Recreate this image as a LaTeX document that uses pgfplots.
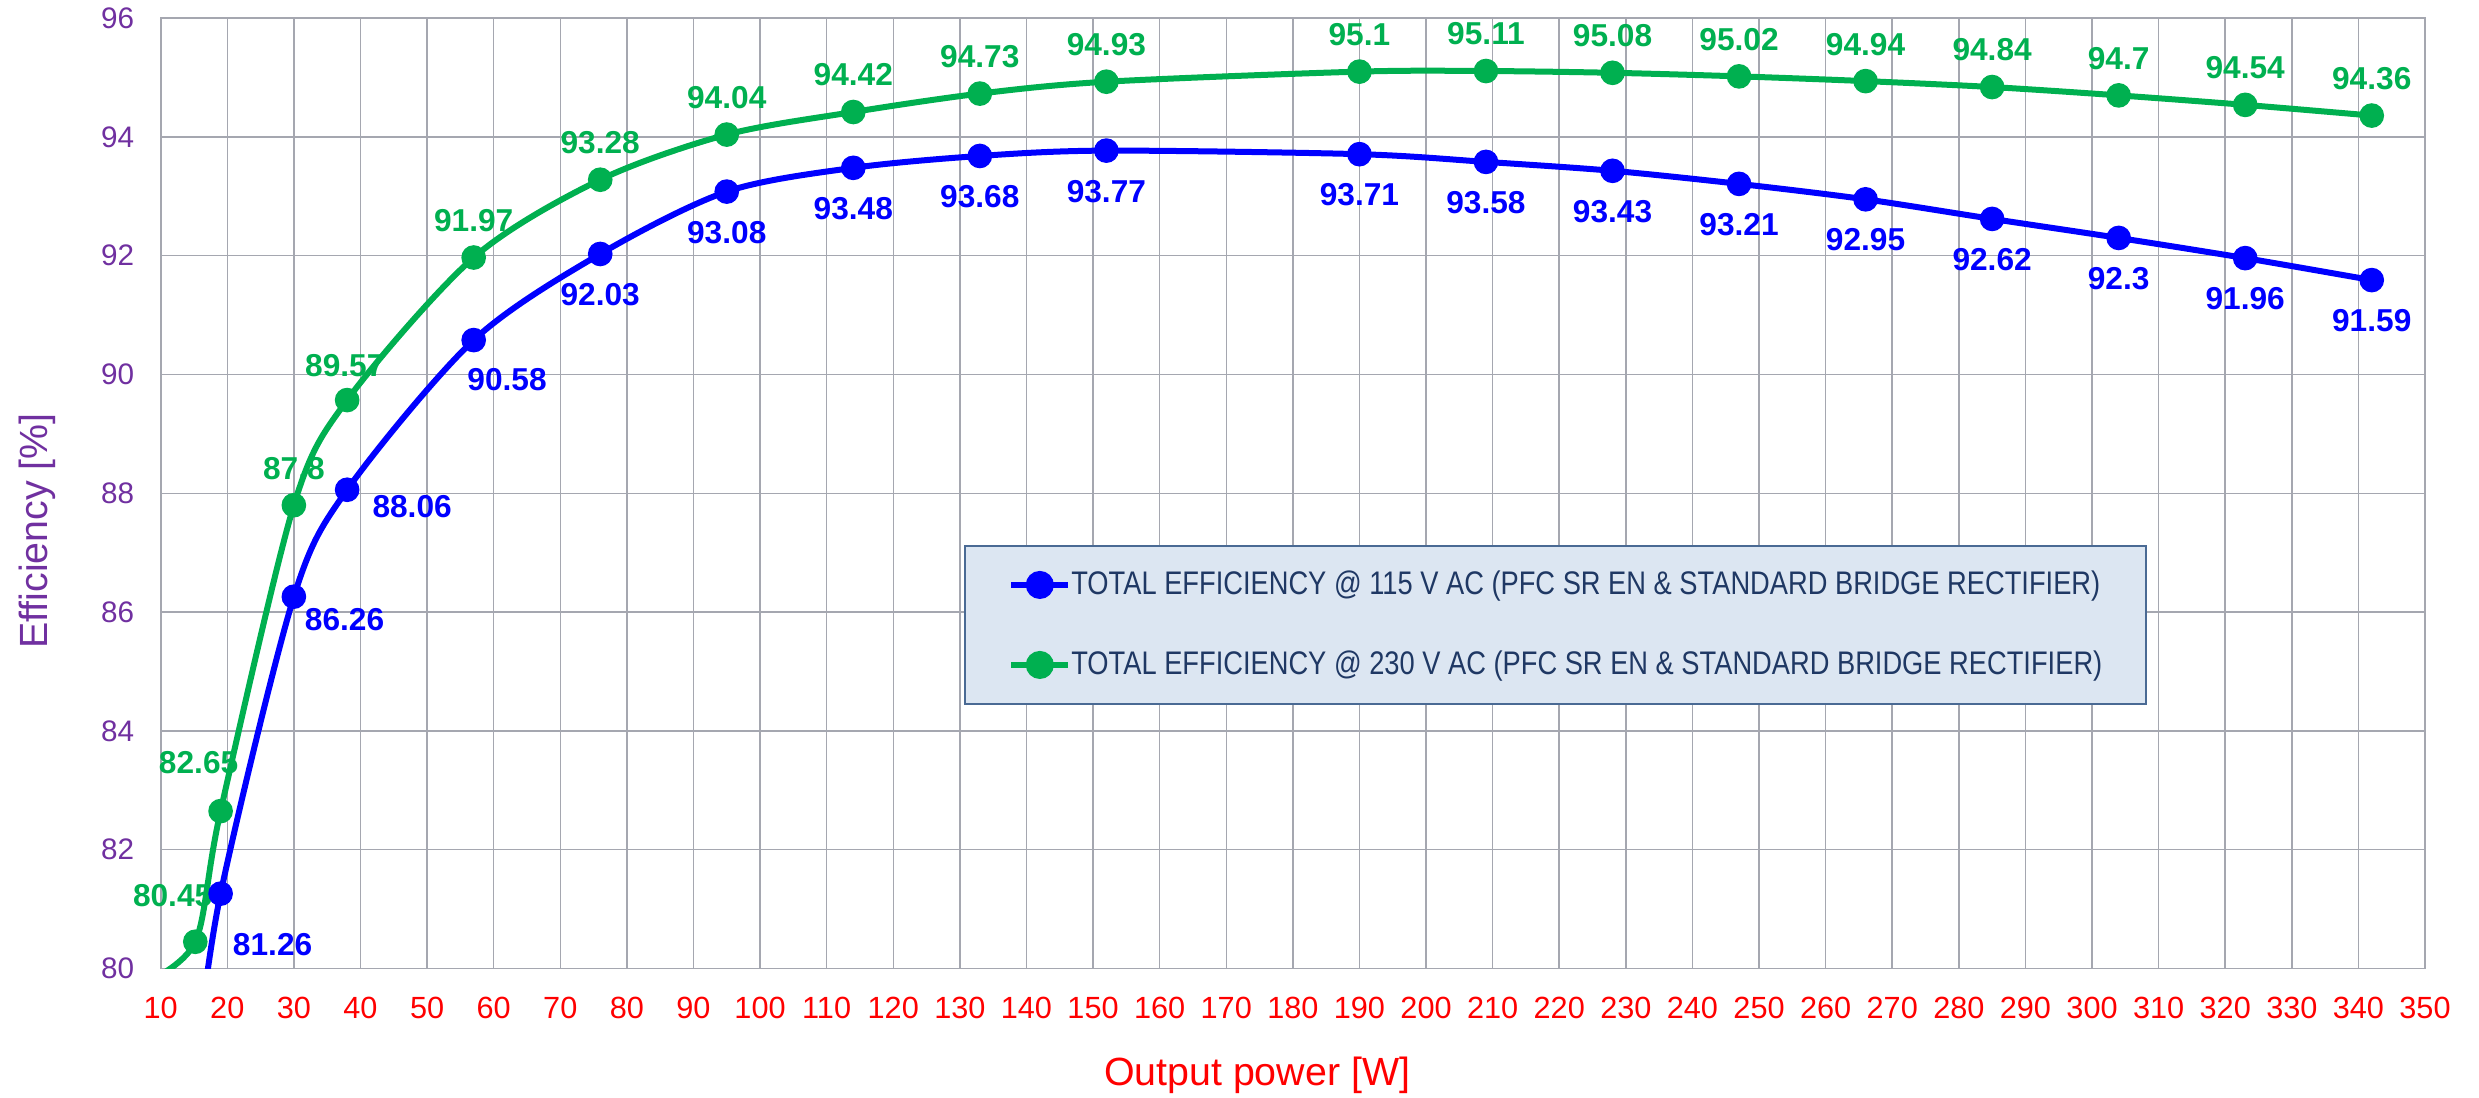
\documentclass[border=0pt]{standalone}
\usepackage{fontspec}
\setmainfont{Liberation Sans}
\newfontfamily\narrowfont{Liberation Sans}[FakeStretch=0.835]
\usepackage{pgfplots}
\usepackage{pgfplotstable}
\pgfplotsset{compat=1.18}

\definecolor{cblue}{HTML}{0000FF}
\definecolor{cgreen}{HTML}{00B050}
\definecolor{cpurple}{HTML}{7030A0}
\definecolor{cred}{HTML}{FF0000}
\definecolor{gridc}{HTML}{A5A7B0}
\definecolor{legfill}{HTML}{DCE6F2}
\definecolor{legdraw}{HTML}{4A6A94}
\definecolor{legtext}{HTML}{1F3864}

% line data (first point lies below the axis and is clipped)
\pgfplotstableread{
x y
7.6 79.75
15.2 80.45
19 82.65
30 87.8
38 89.57
57 91.97
76 93.28
95 94.04
114 94.42
133 94.73
152 94.93
190 95.1
209 95.11
228 95.08
247 95.02
266 94.94
285 94.84
304 94.7
323 94.54
342 94.36
}\greenline

\pgfplotstableread{
x y
15.2 78.3
19 81.26
30 86.26
38 88.06
57 90.58
76 92.03
95 93.08
114 93.48
133 93.68
152 93.77
190 93.71
209 93.58
228 93.43
247 93.21
266 92.95
285 92.62
304 92.3
323 91.96
342 91.59
}\blueline

% visible points with label text and label offsets (pt)
\pgfplotstableread{
x y lab dx dy
15.2 80.45 80.45 -6.8 14
19 82.65 82.65 -6.6 14.7
30 87.8 87.8 0 11.1
38 89.57 89.57 -0.7 10.2
57 91.97 91.97 0 11.1
76 93.28 93.28 0 11.1
95 94.04 94.04 0 11.1
114 94.42 94.42 0 11.1
133 94.73 94.73 0 11.1
152 94.93 94.93 0 11.1
190 95.1 95.1 0 11.1
209 95.11 95.11 0 11.1
228 95.08 95.08 0 11.1
247 95.02 95.02 0 11.1
266 94.94 94.94 0 11.1
285 94.84 94.84 0 11.1
304 94.7 94.7 0 11.1
323 94.54 94.54 0 11.1
342 94.36 94.36 0 11.1
}\greenpts

\pgfplotstableread{
x y lab dx dy
19 81.26 81.26 15.6 -15.2
30 86.26 86.26 15.2 -6.8
38 88.06 88.06 19.5 -5
57 90.58 90.58 10 -12
76 92.03 92.03 0 -12.2
95 93.08 93.08 0 -12.2
114 93.48 93.48 0 -12.2
133 93.68 93.68 0 -12.2
152 93.77 93.77 0 -12.2
190 93.71 93.71 0 -12.2
209 93.58 93.58 0 -12.2
228 93.43 93.43 0 -12.2
247 93.21 93.21 0 -12.2
266 92.95 92.95 0 -12.2
285 92.62 92.62 0 -12.2
304 92.3 92.3 0 -12.2
323 91.96 91.96 0 -12.2
342 91.59 91.59 0 -12.2
}\bluepts

\begin{document}
\begin{tikzpicture}
\useasboundingbox (0,0) rectangle (743.7pt,329.1pt);
\begin{axis}[
  at={(48.2pt,38.55pt)}, anchor=south west,
  scale only axis, width=679.3pt, height=285.1pt,
  xmin=10, xmax=350, ymin=80, ymax=96,
  xtick={10,20,...,350}, ytick={80,82,...,96},
  grid=major,
  major grid style={color=gridc, line width=0.45pt},
  axis line style={color=gridc, line width=0.5pt},
  major tick length=0pt,
  /pgf/number format/assume math mode=true,
  xticklabel style={font=\fontsize{9.2}{9.2}\selectfont, text=cred, yshift=-4.9pt},
  yticklabel style={font=\fontsize{8.9}{8.9}\selectfont, text=cpurple, xshift=-4.4pt},
  xlabel={Output power [W]},
  ylabel={Efficiency [\%]},
  every axis x label/.style={at={(axis description cs:0.4842,-0.1121)}, anchor=center, font=\fontsize{11.8}{11.8}\selectfont, text=cred},
  every axis y label/.style={at={(axis description cs:-0.0546,0.4604)}, rotate=90, anchor=center, font=\fontsize{11.8}{11.8}\selectfont, text=cpurple},
  legend style={at={(rel axis cs:0.3548,0.4457)}, anchor=north west,
    fill=legfill, draw=legdraw, line width=0.6pt,
    inner xsep=13pt, inner ysep=7.4pt, row sep=15.4pt,
    font=\narrowfont\fontsize{9.8}{9.8}\selectfont, text=legtext,
    nodes={inner sep=0pt}, cells={anchor=west}},
  legend cell align=left,
]
\addlegendimage{color=cblue, line width=1.8pt, mark=*, mark size=3.3pt, mark options={solid}}
\addlegendentry{TOTAL EFFICIENCY @ 115 V AC (PFC SR EN \& STANDARD BRIDGE RECTIFIER)}
\addlegendimage{color=cgreen, line width=1.8pt, mark=*, mark size=3.3pt, mark options={solid}}
\addlegendentry{TOTAL EFFICIENCY @ 230 V AC (PFC SR EN \& STANDARD BRIDGE RECTIFIER)}

\addplot[color=cgreen, line width=1.8pt, smooth, line join=round, forget plot] table[x=x,y=y] {\greenline};
\addplot[color=cblue, line width=1.8pt, smooth, line join=round, forget plot] table[x=x,y=y] {\blueline};

\addplot[color=cgreen, only marks, mark=*, mark size=3.5pt, forget plot,
  visualization depends on={\thisrow{dx} \as \dx},
  visualization depends on={\thisrow{dy} \as \dy},
  point meta=explicit symbolic,
  nodes near coords,
  every node near coord/.append style={anchor=center, xshift=\dx pt, yshift=\dy pt,
    font=\bfseries\fontsize{9.5}{9.5}\selectfont, text=cgreen, inner sep=0pt}
] table[x=x,y=y,meta=lab] {\greenpts};

\addplot[color=cblue, only marks, mark=*, mark size=3.5pt, forget plot,
  visualization depends on={\thisrow{dx} \as \dx},
  visualization depends on={\thisrow{dy} \as \dy},
  point meta=explicit symbolic,
  nodes near coords,
  every node near coord/.append style={anchor=center, xshift=\dx pt, yshift=\dy pt,
    font=\bfseries\fontsize{9.5}{9.5}\selectfont, text=cblue, inner sep=0pt}
] table[x=x,y=y,meta=lab] {\bluepts};
\end{axis}
\end{tikzpicture}
\end{document}
